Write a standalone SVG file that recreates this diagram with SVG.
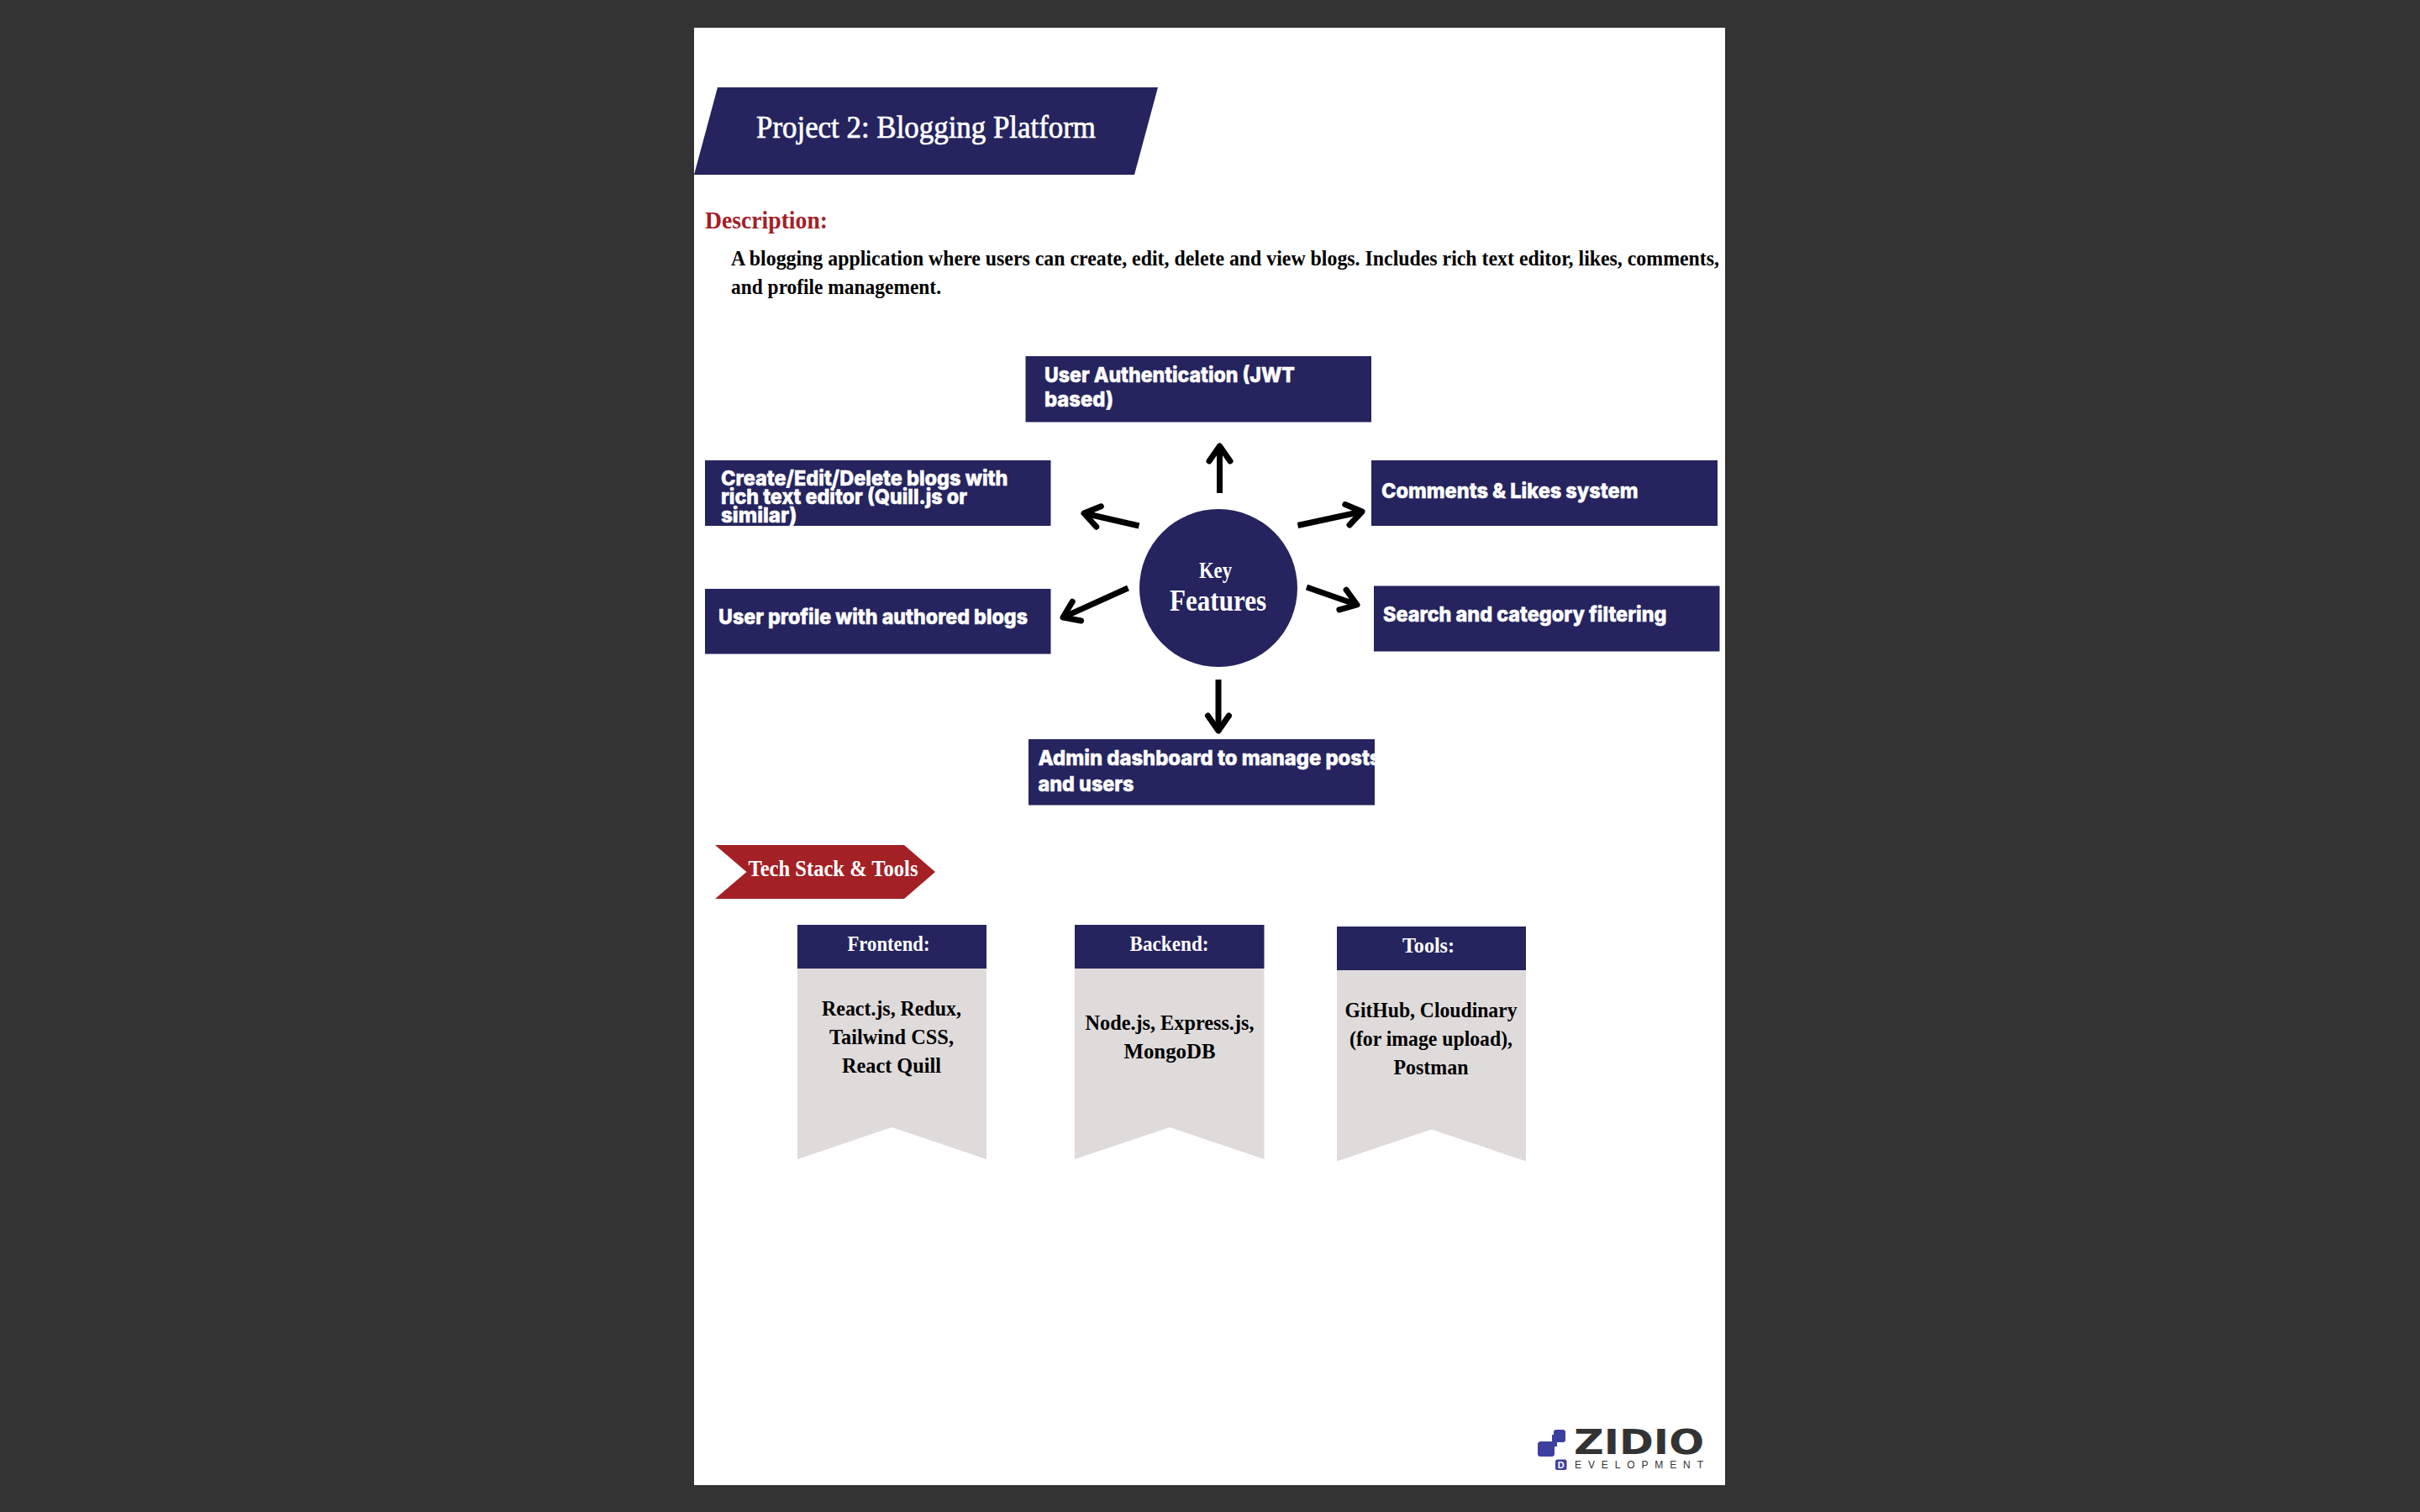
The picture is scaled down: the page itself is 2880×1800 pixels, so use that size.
<svg xmlns="http://www.w3.org/2000/svg" width="2880" height="1800" viewBox="0 0 2880 1800">
<style>
.navy{fill:#25245e}
.red{fill:#a32025}
.gray{fill:#dfdbdb}
.s{font-family:"Liberation Serif","Times New Roman",serif;font-weight:700}
.p{font-family:"Inter","Liberation Sans",sans-serif;font-weight:800;font-size:25px;fill:#fff;stroke:#fff;stroke-width:.5px}
.w{fill:#fff}
.k{fill:#000}
.m{text-anchor:middle}
.b{font-size:25.5px}
.h{font-size:25px}
.arrow{fill:none;stroke:#000;stroke-width:7}
</style>
<defs>
<marker id="head" markerUnits="userSpaceOnUse" markerWidth="44" markerHeight="44" refX="30" refY="22" orient="auto" viewBox="0 0 44 44" overflow="visible">
<path d="M12,9.5 L30,22 L12,34.5" fill="none" stroke="#000" stroke-width="7" stroke-linecap="round" stroke-linejoin="round"/>
</marker>
</defs>
<rect width="2880" height="1800" fill="#333333"/>
<rect id="page" x="826" y="33" width="1227" height="1735" fill="#fff"/>
<g id="title">
<polygon class="navy" points="854,104 1378,104 1350,208 826,208"/>
<text class="w" x="900" y="164" font-family="Liberation Serif, serif" font-size="37" stroke="#fff" stroke-width=".7" textLength="404" lengthAdjust="spacingAndGlyphs">Project 2: Blogging Platform</text>
</g>
<g id="description">
<text class="s red" x="839" y="272" font-size="30" textLength="146" lengthAdjust="spacingAndGlyphs">Description:</text>
<text class="s k" x="870" y="316" font-size="25" textLength="1176" lengthAdjust="spacingAndGlyphs">A blogging application where users can create, edit, delete and view blogs. Includes rich text editor, likes, comments,</text>
<text class="s k" x="870" y="350" font-size="25" textLength="250" lengthAdjust="spacingAndGlyphs">and profile management.</text>
</g>
<g id="connectors">
<path class="arrow" marker-end="url(#head)" d="M1451.5,587 L1451.5,531"/>
<path class="arrow" marker-end="url(#head)" d="M1450,809 L1450,870"/>
<path class="arrow" marker-end="url(#head)" d="M1355.5,626 L1290,611"/>
<path class="arrow" marker-end="url(#head)" d="M1342.5,700 L1265,735"/>
<path class="arrow" marker-end="url(#head)" d="M1544.5,625.5 L1621,609"/>
<path class="arrow" marker-end="url(#head)" d="M1555,699 L1615,720"/>
</g>
<g id="node-center">
<circle class="navy" cx="1450" cy="700" r="94"/>
<text class="s w" x="1427" y="688" font-size="27" textLength="39" lengthAdjust="spacingAndGlyphs">Key</text>
<text class="s w" x="1392" y="727" font-size="35" textLength="115" lengthAdjust="spacingAndGlyphs">Features</text>
</g>
<g id="node-auth">
<rect class="navy" x="1220.5" y="424" width="411.5" height="78.5"/>
<text class="p" x="1243" y="455" textLength="298" lengthAdjust="spacingAndGlyphs">User Authentication (JWT</text>
<text class="p" x="1243" y="484" textLength="82" lengthAdjust="spacingAndGlyphs">based)</text>
</g>
<g id="node-create">
<rect class="navy" x="839" y="548" width="411.5" height="78"/>
<text class="p" x="858" y="578" textLength="341.5" lengthAdjust="spacingAndGlyphs">Create/Edit/Delete blogs with</text>
<text class="p" x="858" y="600" textLength="293" lengthAdjust="spacingAndGlyphs">rich text editor (Quill.js or</text>
<text class="p" x="858" y="621.5" textLength="90.5" lengthAdjust="spacingAndGlyphs">similar)</text>
</g>
<g id="node-profile">
<rect class="navy" x="839" y="701" width="411.5" height="77.5"/>
<text class="p" x="855" y="743" textLength="368" lengthAdjust="spacingAndGlyphs">User profile with authored blogs</text>
</g>
<g id="node-admin">
<rect class="navy" x="1224" y="880" width="412" height="78.5"/>
<text class="p" x="1235.5" y="911" textLength="408" lengthAdjust="spacingAndGlyphs">Admin dashboard to manage posts</text>
<text class="p" x="1235.5" y="942" textLength="114" lengthAdjust="spacingAndGlyphs">and users</text>
</g>
<g id="node-comments">
<rect class="navy" x="1632" y="548" width="412" height="78"/>
<text class="p" x="1644" y="593" textLength="305.5" lengthAdjust="spacingAndGlyphs">Comments &amp; Likes system</text>
</g>
<g id="node-search">
<rect class="navy" x="1635" y="697.5" width="411.5" height="78"/>
<text class="p" x="1646" y="739.5" textLength="337.5" lengthAdjust="spacingAndGlyphs">Search and category filtering</text>
</g>
<g id="tech-heading">
<polygon class="red" points="851,1006 1076,1006 1113,1038 1076,1070 851,1070 888.5,1038"/>
<text class="s w" x="890.5" y="1042.5" font-size="26.5" textLength="202" lengthAdjust="spacingAndGlyphs">Tech Stack &amp; Tools</text>
</g>
<g id="node-frontend">
<polygon class="gray" points="949,1153 1174,1153 1174,1380 1061.5,1342 949,1380"/>
<rect class="navy" x="949" y="1101" width="225" height="52"/>
<text class="s w m h" x="1057.5" y="1131.5" textLength="98" lengthAdjust="spacingAndGlyphs">Frontend:</text>
<text class="s k m b" x="1061" y="1209" textLength="166" lengthAdjust="spacingAndGlyphs">React.js, Redux,</text>
<text class="s k m b" x="1061" y="1243" textLength="148" lengthAdjust="spacingAndGlyphs">Tailwind CSS,</text>
<text class="s k m b" x="1061" y="1277" textLength="118" lengthAdjust="spacingAndGlyphs">React Quill</text>
</g>
<g id="node-backend">
<polygon class="gray" points="1279,1153 1504.5,1153 1504.5,1380 1392,1342 1279,1380"/>
<rect class="navy" x="1279" y="1101" width="225.5" height="52"/>
<text class="s w m h" x="1391.5" y="1131.5" textLength="94" lengthAdjust="spacingAndGlyphs">Backend:</text>
<text class="s k m b" x="1392" y="1226" textLength="201" lengthAdjust="spacingAndGlyphs">Node.js, Express.js,</text>
<text class="s k m b" x="1392" y="1259.5" textLength="109" lengthAdjust="spacingAndGlyphs">MongoDB</text>
</g>
<g id="node-tools">
<polygon class="gray" points="1591,1155 1816,1155 1816,1382.5 1703.5,1344.5 1591,1382.5"/>
<rect class="navy" x="1591" y="1103" width="225" height="52"/>
<text class="s w m h" x="1700" y="1134" textLength="62" lengthAdjust="spacingAndGlyphs">Tools:</text>
<text class="s k m b" x="1703" y="1210.5" textLength="205" lengthAdjust="spacingAndGlyphs">GitHub, Cloudinary</text>
<text class="s k m b" x="1703" y="1244.5" textLength="194" lengthAdjust="spacingAndGlyphs">(for image upload),</text>
<text class="s k m b" x="1703" y="1279" textLength="89" lengthAdjust="spacingAndGlyphs">Postman</text>
</g>
<g id="logo">
<rect x="1849" y="1702" width="14" height="15" rx="3" fill="#3d3f9e"/>
<rect x="1830" y="1716" width="20" height="18" rx="3.5" fill="#3d3f9e"/>
<rect x="1847" y="1708" width="6" height="14" fill="#3d3f9e"/>
<text x="1873" y="1731" font-family="DejaVu Sans, sans-serif" font-weight="700" font-size="40" fill="#333" textLength="155" lengthAdjust="spacingAndGlyphs">ZIDIO</text>
<rect x="1851" y="1737.5" width="13.5" height="12.5" rx="2.5" fill="#3d3f9e"/>
<text x="1857.7" y="1748" text-anchor="middle" font-family="Liberation Sans, sans-serif" font-size="11" font-weight="700" fill="#fff">D</text>
<text x="1874" y="1747.5" font-family="Liberation Sans, sans-serif" font-size="12" fill="#333" textLength="153" lengthAdjust="spacing">EVELOPMENT</text>
</g>
</svg>
